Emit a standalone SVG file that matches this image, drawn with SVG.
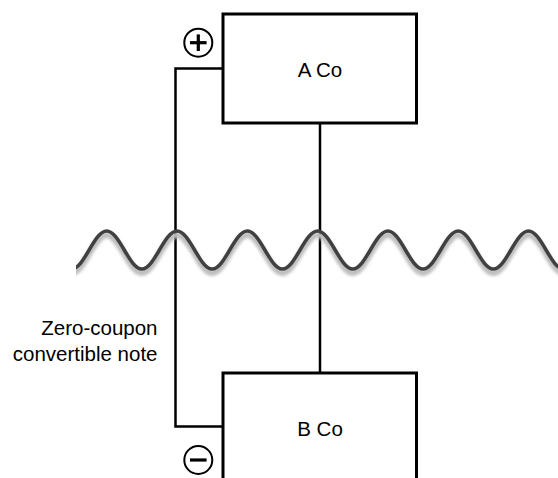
<svg xmlns="http://www.w3.org/2000/svg" width="558" height="478" viewBox="0 0 558 478">
  <style>
    .box { fill: #ffffff; stroke: #000000; stroke-width: 3; }
    .conn { fill: none; stroke: #000000; stroke-width: 2.5; }
    .sign { fill: none; stroke: #000000; stroke-width: 2; }
    .bar { stroke: #000000; stroke-width: 3.2; stroke-linecap: butt; }
    .lbl { font-family: "Liberation Sans", Arial, sans-serif; font-size: 20.5px; fill: #000000; }
    .wave { fill: none; stroke: #404040; stroke-width: 3.5; }
    .shadow { fill: none; stroke: #bdbdbd; stroke-width: 6; }
  </style>
  <defs>
    <filter id="blur" x="-5%" y="-50%" width="110%" height="200%">
      <feGaussianBlur stdDeviation="1.6"/>
    </filter>
    <clipPath id="waveclip">
      <rect x="76" y="200" width="482" height="100"/>
    </clipPath>
    <path id="wavepath" d="M71.55,269 C84.32,269 93.93,231 106.7,231 S129.08,269 141.85,269 S164.23,231 177,231 S199.38,269 212.15,269 S234.53,231 247.3,231 S269.68,269 282.45,269 S304.83,231 317.6,231 S339.98,269 352.75,269 S375.13,231 387.9,231 S410.28,269 423.05,269 S445.43,231 458.2,231 S480.58,269 493.35,269 S515.73,231 528.5,231 S550.88,269 563.65,269"/>
  </defs>

  <g id="connectors">
    <polyline class="conn" points="223,68.5 175.5,68.5 175.5,426.5 223,426.5"/>
    <line class="conn" x1="320" y1="123" x2="320" y2="373"/>
  </g>

  <g id="wave" clip-path="url(#waveclip)">
    <use href="#wavepath" class="shadow" transform="translate(0,4)" filter="url(#blur)"/>
    <use href="#wavepath" class="wave"/>
  </g>

  <g id="a-co">
    <rect class="box" x="223" y="14" width="193.5" height="109"/>
    <text class="lbl" x="320" y="76.5" text-anchor="middle">A Co</text>
  </g>

  <g id="b-co">
    <rect class="box" x="223" y="373" width="193.5" height="120"/>
    <text class="lbl" x="320" y="436" text-anchor="middle">B Co</text>
  </g>

  <g id="plus">
    <circle class="sign" cx="198.3" cy="42.7" r="14"/>
    <line class="bar" x1="190" y1="42.7" x2="206.6" y2="42.7"/>
    <line class="bar" x1="198.3" y1="34.4" x2="198.3" y2="51"/>
  </g>

  <g id="minus">
    <circle class="sign" cx="198.3" cy="460" r="14"/>
    <line class="bar" x1="190" y1="460" x2="206.6" y2="460"/>
  </g>

  <g id="note-label">
    <text class="lbl" x="157.5" y="335" text-anchor="end">Zero-coupon</text>
    <text class="lbl" x="157.5" y="361" text-anchor="end">convertible note</text>
  </g>
</svg>
